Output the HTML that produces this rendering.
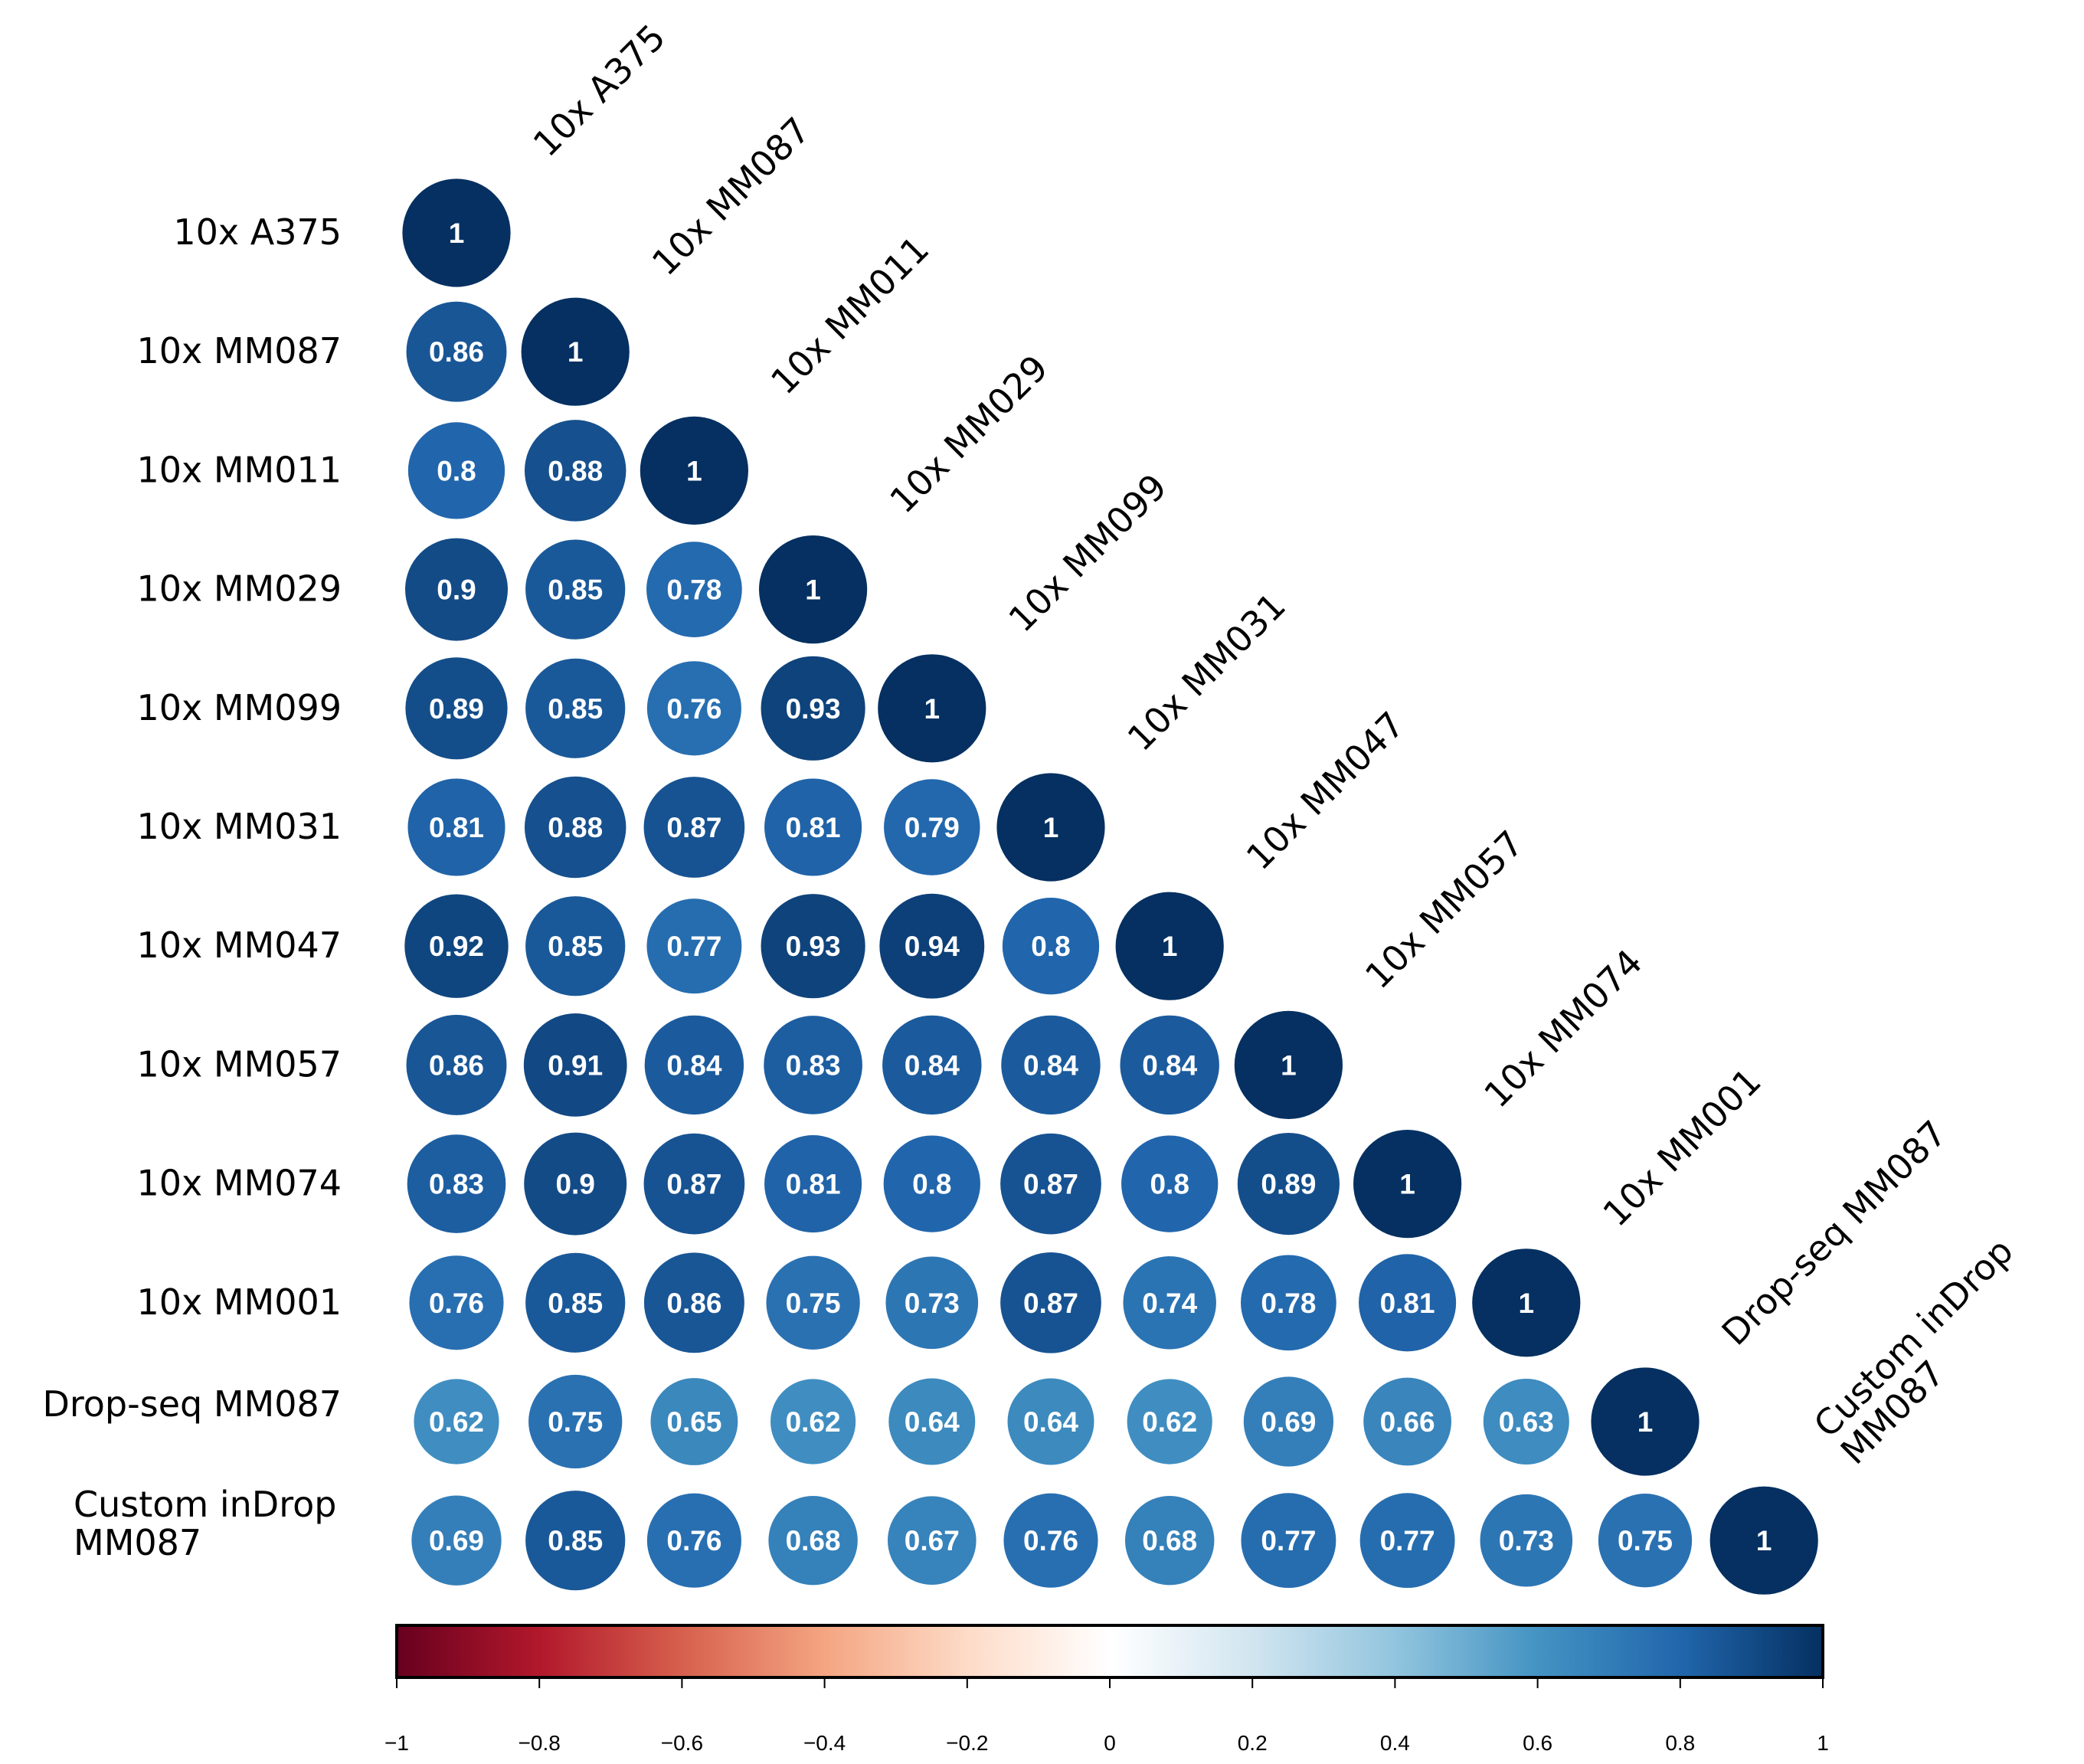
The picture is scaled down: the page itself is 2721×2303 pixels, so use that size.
<!DOCTYPE html>
<html><head><meta charset="utf-8"><style>
html,body{margin:0;padding:0;background:#fff;}
svg{display:block;}
text{font-family:"Liberation Sans",sans-serif;}
.lab{font-family:"DejaVu Sans","Liberation Sans",sans-serif;}
</style></head><body>
<svg id="chart" xmlns="http://www.w3.org/2000/svg" width="2721" height="2303" viewBox="0 0 2721 2303">
<defs>
<linearGradient id="rdbu" x1="0" x2="1" y1="0" y2="0">
<stop offset="0" stop-color="#67001F"/><stop offset="0.1" stop-color="#B2182B"/><stop offset="0.2" stop-color="#D6604D"/><stop offset="0.3" stop-color="#F4A582"/><stop offset="0.4" stop-color="#FDDBC7"/><stop offset="0.5" stop-color="#FFFFFF"/><stop offset="0.6" stop-color="#D1E5F0"/><stop offset="0.7" stop-color="#92C5DE"/><stop offset="0.8" stop-color="#4393C3"/><stop offset="0.9" stop-color="#2166AC"/><stop offset="1" stop-color="#053061"/>
</linearGradient>
</defs>
<g id="cells"></g>
<g id="rowlabels"></g>
<g id="collabels"></g>
<g id="colorbar">
<rect x="518" y="2122" width="1862" height="68" fill="url(#rdbu)" stroke="#000" stroke-width="4"/>
</g>
</svg>
<script>
const labels = ["10x A375","10x MM087","10x MM011","10x MM029","10x MM099","10x MM031","10x MM047","10x MM057","10x MM074","10x MM001","Drop-seq MM087","Custom inDrop MM087"];
const corr = [
[1],
[0.86,1],
[0.8,0.88,1],
[0.9,0.85,0.78,1],
[0.89,0.85,0.76,0.93,1],
[0.81,0.88,0.87,0.81,0.79,1],
[0.92,0.85,0.77,0.93,0.94,0.8,1],
[0.86,0.91,0.84,0.83,0.84,0.84,0.84,1],
[0.83,0.9,0.87,0.81,0.8,0.87,0.8,0.89,1],
[0.76,0.85,0.86,0.75,0.73,0.87,0.74,0.78,0.81,1],
[0.62,0.75,0.65,0.62,0.64,0.64,0.62,0.69,0.66,0.63,1],
[0.69,0.85,0.76,0.68,0.67,0.76,0.68,0.77,0.77,0.73,0.75,1]
];
const cbTicks = [-1,-0.8,-0.6,-0.4,-0.2,0,0.2,0.4,0.6,0.8,1];

const NS="http://www.w3.org/2000/svg";
const x0=596, y0=304, step=155.2, rMax=70.6;
const colX=j=>x0+j*step, rowY=i=>y0+i*step;
const cbX=v=>518+(v+1)/2*1862;
const stops=["#67001F","#B2182B","#D6604D","#F4A582","#FDDBC7","#FFFFFF","#D1E5F0","#92C5DE","#4393C3","#2166AC","#053061"];
function hex(h){return [1,3,5].map(k=>parseInt(h.substr(k,2),16));}
function color(v){const t=(v+1)/2*10;const i=Math.min(9,Math.floor(t));const f=t-i;const a=hex(stops[i]),b=hex(stops[i+1]);return "rgb("+a.map((c,k)=>Math.round(c+(b[k]-c)*f)).join(",")+")";}
function mk(tag,attrs,parent){const e=document.createElementNS(NS,tag);for(const k in attrs)e.setAttribute(k,attrs[k]);parent.appendChild(e);return e;}

const cells=document.getElementById('cells');
corr.forEach((row,i)=>row.forEach((v,j)=>{
  const c=mk('circle',{cx:colX(j),cy:rowY(i),r:rMax*Math.sqrt(Math.abs(v)),fill:color(v)},cells);
  
  
  const t=mk('text',{x:colX(j),y:rowY(i)+13,'text-anchor':'middle','font-size':37,'font-weight':'bold',fill:'#fff'},cells);
  
  
  t.textContent=String(v);
}));

const rl=document.getElementById('rowlabels');
labels.forEach((l,i)=>{
  if(i===11){
    const t=mk('text',{x:96,y:1980,'font-size':46,fill:'#000','class':'lab'},rl);
    
    
    t.textContent="Custom inDrop";
    const t2=mk('text',{x:96,y:2030,'font-size':46,fill:'#000','class':'lab'},rl);
    
    
    t2.textContent="MM087";
    return;
  }
  const t=mk('text',{x:446,y:rowY(i)+(i===10?-7:15),'text-anchor':'end','font-size':46,fill:'#000','class':'lab'},rl);
  
  
  t.textContent=l;
});

const cl=document.getElementById('collabels');
labels.forEach((l,j)=>{
  const ax=716+j*step, ay=207+j*step;
  if(j===11){
    const t=mk('text',{x:ax-35,y:ay-35,'font-size':46,fill:'#000','class':'lab',transform:`rotate(-45 ${ax-35} ${ay-35})`},cl);
    
    
    t.textContent="Custom inDrop";
    const t2=mk('text',{x:ax,y:ay,'font-size':46,fill:'#000','class':'lab',transform:`rotate(-45 ${ax} ${ay})`},cl);
    
    
    t2.textContent="MM087";
    return;
  }
  const t=mk('text',{x:ax,y:ay,'font-size':46,fill:'#000','class':'lab',transform:`rotate(-45 ${ax} ${ay})`},cl);
  
  
  t.textContent=l;
});

const cb=document.getElementById('colorbar');
cbTicks.forEach(v=>{
  const ln=mk('line',{x1:cbX(v),x2:cbX(v),y1:2190,y2:2204,stroke:'#000','stroke-width':2},cb);
  
  
  const t=mk('text',{x:cbX(v),y:2285,'text-anchor':'middle','font-size':28,fill:'#000'},cb);
  
  
  t.textContent=(v<0?"\u2212":"")+String(Math.abs(v));
});
</script>
</body></html>
